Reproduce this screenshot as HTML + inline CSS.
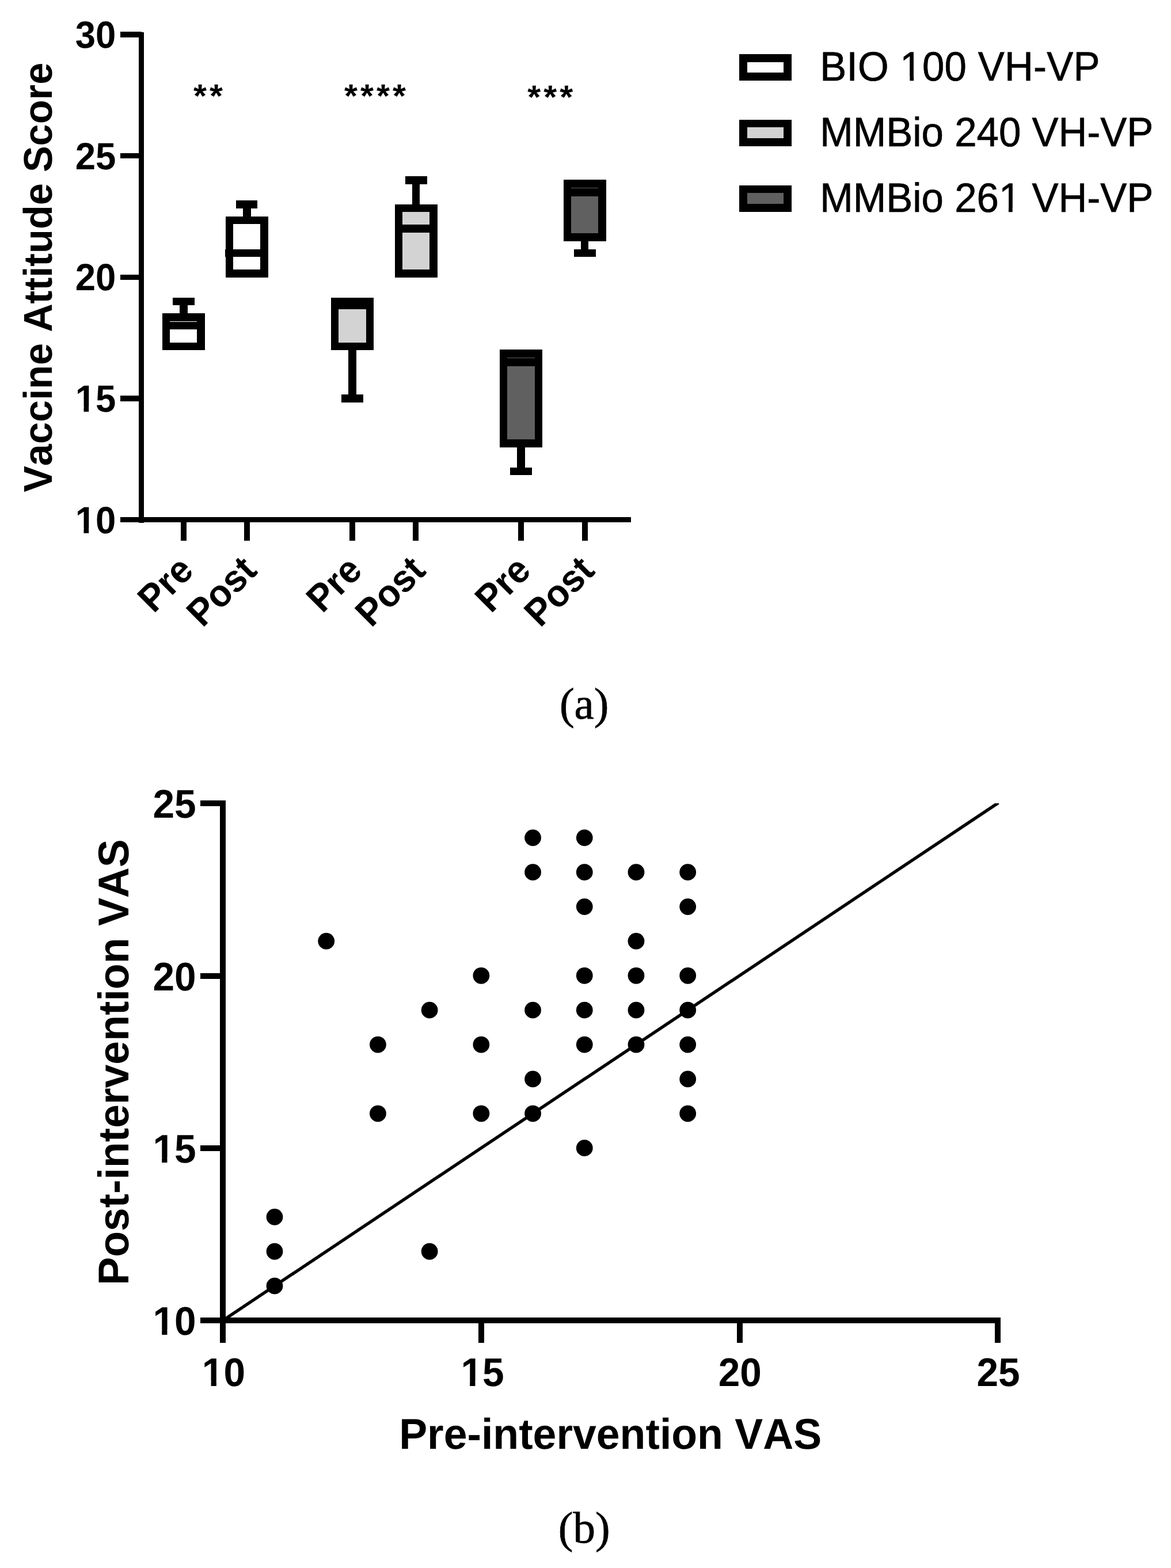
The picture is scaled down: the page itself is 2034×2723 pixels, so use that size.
<!DOCTYPE html>
<html lang="en">
<head>
<meta charset="utf-8">
<title>Vaccine attitude scores</title>
<style>
html,body{margin:0;padding:0;background:#fff;}
body{width:2034px;height:2723px;overflow:hidden;}
svg{display:block;}
text{text-rendering:geometricPrecision;}
</style>
</head>
<body>
<svg width="2034" height="2723" viewBox="0 0 2034 2723">
<rect x="0" y="0" width="2034" height="2723" fill="#fff"/>
<g id="chart-a" shape-rendering="crispEdges">
<rect x="241" y="56" width="9" height="852" fill="#000"/>
<rect x="209" y="898" width="887" height="9" fill="#000"/>
<rect x="209" y="55" width="37" height="10" fill="#000"/>
<rect x="209" y="266" width="37" height="9" fill="#000"/>
<rect x="209" y="477" width="37" height="9" fill="#000"/>
<rect x="209" y="687" width="37" height="10" fill="#000"/>
<rect x="314" y="906" width="10" height="33" fill="#000"/>
<rect x="424" y="906" width="10" height="33" fill="#000"/>
<rect x="607" y="906" width="10" height="33" fill="#000"/>
<rect x="717" y="906" width="10" height="33" fill="#000"/>
<rect x="900" y="906" width="10" height="33" fill="#000"/>
<rect x="1011" y="906" width="10" height="33" fill="#000"/>
<rect x="312" y="523" width="14" height="22" fill="#000"/>
<rect x="300" y="517" width="38" height="13" fill="#000"/>
<rect x="282" y="544" width="74" height="64" fill="#000"/>
<rect x="295" y="558" width="47" height="37" fill="#fff"/>
<rect x="295" y="559" width="47" height="13" fill="#000"/>
<rect x="422" y="355" width="14" height="22" fill="#000"/>
<rect x="410" y="348" width="37" height="14" fill="#000"/>
<rect x="392" y="376" width="74" height="106" fill="#000"/>
<rect x="405" y="389" width="47" height="79" fill="#fff"/>
<rect x="391" y="433" width="75" height="13" fill="#000"/>
<rect x="605" y="607" width="14" height="85" fill="#000"/>
<rect x="593" y="685" width="38" height="14" fill="#000"/>
<rect x="575" y="517" width="74" height="91" fill="#000"/>
<rect x="588" y="537" width="48" height="58" fill="#d3d3d3"/>
<rect x="716" y="313" width="13" height="43" fill="#000"/>
<rect x="704" y="306" width="38" height="14" fill="#000"/>
<rect x="686" y="355" width="74" height="127" fill="#000"/>
<rect x="699" y="368" width="47" height="100" fill="#d3d3d3"/>
<rect x="699" y="390" width="47" height="14" fill="#000"/>
<rect x="898" y="776" width="14" height="42" fill="#000"/>
<rect x="886" y="812" width="38" height="13" fill="#000"/>
<rect x="868" y="607" width="74" height="170" fill="#000"/>
<rect x="881" y="621" width="48" height="142" fill="#606060"/>
<rect x="881" y="622" width="48" height="14" fill="#000"/>
<rect x="1009" y="418" width="13" height="22" fill="#000"/>
<rect x="997" y="433" width="38" height="13" fill="#000"/>
<rect x="979" y="312" width="74" height="107" fill="#000"/>
<rect x="992" y="326" width="47" height="79" fill="#606060"/>
<rect x="992" y="327" width="47" height="14" fill="#000"/>
<rect x="1284" y="94" width="91" height="46" fill="#000"/>
<rect x="1298" y="108" width="63" height="18" fill="#fff"/>
<rect x="1284" y="208" width="91" height="46" fill="#000"/>
<rect x="1298" y="221" width="63" height="19" fill="#d3d3d3"/>
<rect x="1284" y="322" width="91" height="46" fill="#000"/>
<rect x="1298" y="335" width="63" height="19" fill="#606060"/>
</g>
<g id="text-a" fill="#000" style="font-kerning:none">
<text transform="translate(201.3,83.3) scale(1,1.035)" font-family="'Liberation Sans', Arial, Helvetica, sans-serif" font-size="63.5" font-weight="bold" text-anchor="end">30</text>
<text transform="translate(201.3,294.1) scale(1,1.035)" font-family="'Liberation Sans', Arial, Helvetica, sans-serif" font-size="63.5" font-weight="bold" text-anchor="end">25</text>
<text transform="translate(201.3,504.1) scale(1,1.035)" font-family="'Liberation Sans', Arial, Helvetica, sans-serif" font-size="63.5" font-weight="bold" text-anchor="end">20</text>
<text transform="translate(201.3,714.8) scale(1,1.035)" font-family="'Liberation Sans', Arial, Helvetica, sans-serif" font-size="63.5" font-weight="bold" text-anchor="end">15</text>
<text transform="translate(201.3,925.5) scale(1,1.035)" font-family="'Liberation Sans', Arial, Helvetica, sans-serif" font-size="63.5" font-weight="bold" text-anchor="end">10</text>
<text transform="translate(339.3,993.9) rotate(-45) scale(1,1.04)" font-family="'Liberation Sans', Arial, Helvetica, sans-serif" font-size="63.6" font-weight="bold" text-anchor="end">Pre</text>
<text transform="translate(449.3,993.9) rotate(-45) scale(1,1.04)" font-family="'Liberation Sans', Arial, Helvetica, sans-serif" font-size="63.6" font-weight="bold" text-anchor="end">Post</text>
<text transform="translate(632.3,993.9) rotate(-45) scale(1,1.04)" font-family="'Liberation Sans', Arial, Helvetica, sans-serif" font-size="63.6" font-weight="bold" text-anchor="end">Pre</text>
<text transform="translate(742.3,993.9) rotate(-45) scale(1,1.04)" font-family="'Liberation Sans', Arial, Helvetica, sans-serif" font-size="63.6" font-weight="bold" text-anchor="end">Post</text>
<text transform="translate(925.3,993.9) rotate(-45) scale(1,1.04)" font-family="'Liberation Sans', Arial, Helvetica, sans-serif" font-size="63.6" font-weight="bold" text-anchor="end">Pre</text>
<text transform="translate(1035.8,993.9) rotate(-45) scale(1,1.04)" font-family="'Liberation Sans', Arial, Helvetica, sans-serif" font-size="63.6" font-weight="bold" text-anchor="end">Post</text>
<text transform="translate(90.2,481.8) rotate(-90) scale(1,1.02)" font-family="'Liberation Sans', Arial, Helvetica, sans-serif" font-size="68.5" font-weight="bold" text-anchor="middle">Vaccine Attitude Score</text>
<text transform="translate(336,186) scale(1,0.965)" font-family="'Liberation Sans', Arial, Helvetica, sans-serif" font-size="59" font-weight="bold" letter-spacing="5.05">**</text>
<text transform="translate(598,186) scale(1,0.965)" font-family="'Liberation Sans', Arial, Helvetica, sans-serif" font-size="59" font-weight="bold" letter-spacing="5.05">****</text>
<text transform="translate(916.3,187.9) scale(1,0.965)" font-family="'Liberation Sans', Arial, Helvetica, sans-serif" font-size="59" font-weight="bold" letter-spacing="5.05">***</text>
<text transform="translate(1424.3,139.6) scale(1,1.035)" font-family="'Liberation Sans', Arial, Helvetica, sans-serif" font-size="69" font-weight="normal" letter-spacing="0.25" stroke="#000" stroke-width="0.7" stroke-linejoin="miter">BIO 100 VH-VP</text>
<text transform="translate(1424.3,253.6) scale(1,1.035)" font-family="'Liberation Sans', Arial, Helvetica, sans-serif" font-size="69" font-weight="normal" stroke="#000" stroke-width="0.7" stroke-linejoin="miter">MMBio 240 VH-VP</text>
<text transform="translate(1424.3,367.6) scale(1,1.035)" font-family="'Liberation Sans', Arial, Helvetica, sans-serif" font-size="69" font-weight="normal" stroke="#000" stroke-width="0.7" stroke-linejoin="miter">MMBio 261 VH-VP</text>
<text transform="translate(1014.7,1247.5)" font-family="'Liberation Serif', 'Times New Roman', serif" font-size="77" font-weight="normal" text-anchor="middle" stroke="#000" stroke-width="0.8" stroke-linejoin="miter">(a)</text>
</g>
<g id="trim-a" fill="#fff">
<g transform="translate(201.3,714.8) scale(1,1.035)"><rect x="-68.63" y="-7.98" width="12.82" height="9.98"/><rect x="-47.1" y="-7.98" width="12.01" height="9.98"/></g>
<g transform="translate(201.3,925.5) scale(1,1.035)"><rect x="-68.63" y="-7.98" width="12.82" height="9.98"/><rect x="-47.1" y="-7.98" width="12.01" height="9.98"/></g>
<g transform="translate(1424.3,139.6) scale(1,1.035)"><rect x="142.29" y="-6.65" width="13.75" height="8.65"/><rect x="162.83" y="-6.65" width="13.56" height="8.65"/></g>
<g transform="translate(1424.3,367.6) scale(1,1.035)"><rect x="313.86" y="-6.65" width="13.75" height="8.65"/><rect x="334.4" y="-6.65" width="13.56" height="8.65"/></g>
</g>
<g id="chart-b">
<clipPath id="plot-b"><rect x="387" y="1395" width="1348.2" height="900"/></clipPath>
<line x1="387.3" y1="2293" x2="1751.89" y2="1382.28" stroke="#000" stroke-width="5.4" clip-path="url(#plot-b)"/>
<g shape-rendering="crispEdges">
<rect x="382" y="1390" width="10" height="942" fill="#000"/>
<rect x="348" y="2288" width="1390" height="10" fill="#000"/>
<rect x="348" y="1390" width="35" height="10" fill="#000"/>
<rect x="348" y="1690" width="35" height="10" fill="#000"/>
<rect x="348" y="1989" width="35" height="10" fill="#000"/>
<rect x="831" y="2297" width="10" height="35" fill="#000"/>
<rect x="1280" y="2297" width="10" height="35" fill="#000"/>
<rect x="1728" y="2297" width="10" height="35" fill="#000"/>
</g>
<circle cx="477.01" cy="2233.13" r="14.4"/>
<circle cx="477.01" cy="2173.26" r="14.4"/>
<circle cx="477.01" cy="2113.39" r="14.4"/>
<circle cx="566.72" cy="1634.43" r="14.4"/>
<circle cx="656.43" cy="1933.78" r="14.4"/>
<circle cx="656.43" cy="1814.04" r="14.4"/>
<circle cx="746.14" cy="2173.26" r="14.4"/>
<circle cx="746.14" cy="1754.17" r="14.4"/>
<circle cx="835.85" cy="1933.78" r="14.4"/>
<circle cx="835.85" cy="1814.04" r="14.4"/>
<circle cx="835.85" cy="1694.3" r="14.4"/>
<circle cx="925.56" cy="1933.78" r="14.4"/>
<circle cx="925.56" cy="1873.91" r="14.4"/>
<circle cx="925.56" cy="1754.17" r="14.4"/>
<circle cx="925.56" cy="1514.69" r="14.4"/>
<circle cx="925.56" cy="1454.82" r="14.4"/>
<circle cx="1015.27" cy="1993.65" r="14.4"/>
<circle cx="1015.27" cy="1814.04" r="14.4"/>
<circle cx="1015.27" cy="1754.17" r="14.4"/>
<circle cx="1015.27" cy="1694.3" r="14.4"/>
<circle cx="1015.27" cy="1574.56" r="14.4"/>
<circle cx="1015.27" cy="1514.69" r="14.4"/>
<circle cx="1015.27" cy="1454.82" r="14.4"/>
<circle cx="1104.98" cy="1814.04" r="14.4"/>
<circle cx="1104.98" cy="1754.17" r="14.4"/>
<circle cx="1104.98" cy="1694.3" r="14.4"/>
<circle cx="1104.98" cy="1634.43" r="14.4"/>
<circle cx="1104.98" cy="1514.69" r="14.4"/>
<circle cx="1194.69" cy="1933.78" r="14.4"/>
<circle cx="1194.69" cy="1873.91" r="14.4"/>
<circle cx="1194.69" cy="1814.04" r="14.4"/>
<circle cx="1194.69" cy="1754.17" r="14.4"/>
<circle cx="1194.69" cy="1694.3" r="14.4"/>
<circle cx="1194.69" cy="1574.56" r="14.4"/>
<circle cx="1194.69" cy="1514.69" r="14.4"/>
</g>
<g id="text-b" fill="#000" style="font-kerning:none">
<text transform="translate(340.6,1420) scale(1,1.025)" font-family="'Liberation Sans', Arial, Helvetica, sans-serif" font-size="67.6" font-weight="bold" text-anchor="end">25</text>
<text transform="translate(340.6,1720) scale(1,1.025)" font-family="'Liberation Sans', Arial, Helvetica, sans-serif" font-size="67.6" font-weight="bold" text-anchor="end">20</text>
<text transform="translate(340.6,2019) scale(1,1.025)" font-family="'Liberation Sans', Arial, Helvetica, sans-serif" font-size="67.6" font-weight="bold" text-anchor="end">15</text>
<text transform="translate(340.6,2318) scale(1,1.025)" font-family="'Liberation Sans', Arial, Helvetica, sans-serif" font-size="67.6" font-weight="bold" text-anchor="end">10</text>
<text transform="translate(388.4,2406.8) scale(1,1.025)" font-family="'Liberation Sans', Arial, Helvetica, sans-serif" font-size="67.6" font-weight="bold" text-anchor="middle">10</text>
<text transform="translate(838,2406.8) scale(1,1.025)" font-family="'Liberation Sans', Arial, Helvetica, sans-serif" font-size="67.6" font-weight="bold" text-anchor="middle">15</text>
<text transform="translate(1285.3,2406.8) scale(1,1.025)" font-family="'Liberation Sans', Arial, Helvetica, sans-serif" font-size="67.6" font-weight="bold" text-anchor="middle">20</text>
<text transform="translate(1734,2406.8) scale(1,1.025)" font-family="'Liberation Sans', Arial, Helvetica, sans-serif" font-size="67.6" font-weight="bold" text-anchor="middle">25</text>
<text transform="translate(222.7,1844.6) rotate(-90) scale(1,1.02)" font-family="'Liberation Sans', Arial, Helvetica, sans-serif" font-size="73.4" font-weight="bold" text-anchor="middle">Post-intervention VAS</text>
<text transform="translate(1060.2,2516.3) scale(1,1.02)" font-family="'Liberation Sans', Arial, Helvetica, sans-serif" font-size="73.4" font-weight="bold" text-anchor="middle">Pre-intervention VAS</text>
<text transform="translate(1014.7,2678.5)" font-family="'Liberation Serif', 'Times New Roman', serif" font-size="77" font-weight="normal" text-anchor="middle" stroke="#000" stroke-width="0.8" stroke-linejoin="miter">(b)</text>
</g>
<g id="trim-b" fill="#fff">
<g transform="translate(340.6,2019) scale(1,1.025)"><rect x="-72.93" y="-8.4" width="13.52" height="10.4"/><rect x="-50.14" y="-8.4" width="12.66" height="10.4"/></g>
<g transform="translate(340.6,2318) scale(1,1.025)"><rect x="-72.93" y="-8.4" width="13.52" height="10.4"/><rect x="-50.14" y="-8.4" width="12.66" height="10.4"/></g>
<g transform="translate(388.4,2406.8) scale(1,1.025)"><rect x="-35.34" y="-8.4" width="13.52" height="10.4"/><rect x="-12.54" y="-8.4" width="12.66" height="10.4"/></g>
<g transform="translate(838,2406.8) scale(1,1.025)"><rect x="-35.34" y="-8.4" width="13.52" height="10.4"/><rect x="-12.54" y="-8.4" width="12.66" height="10.4"/></g>
</g>
</svg>
</body>
</html>
